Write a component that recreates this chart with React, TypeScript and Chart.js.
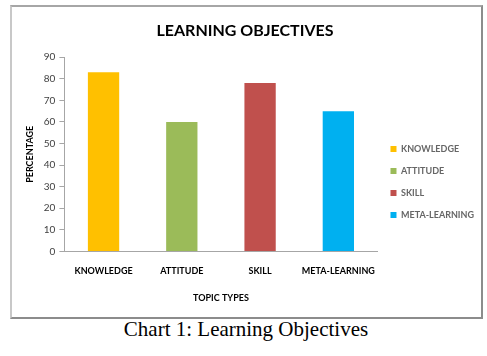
import React, { useEffect, useRef } from "react";
import { Chart, registerables } from "chart.js";

Chart.register(...registerables);

const categories = ["KNOWLEDGE", "ATTITUDE", "SKILL", "META-LEARNING"];
const values = [83, 60, 78, 65];
const colors = ["#FFC000", "#9BBB59", "#C0504D", "#00B0F0"];
const yTickMax = 90;
const yTickStep = 10;

const FONT = "Lato, 'Open Sans', sans-serif";

export default function App() {
  const ref = useRef<HTMLCanvasElement | null>(null);

  useEffect(() => {
    if (!ref.current) return;
    const chart = new Chart(ref.current, {
      type: "bar",
      data: {
        labels: categories,
        datasets: [
          {
            label: "Learning Objectives",
            data: values,
            backgroundColor: colors,
            borderWidth: 0,
            barPercentage: 0.4,
            categoryPercentage: 1,
          },
        ],
      },
      options: {
        responsive: false,
        animation: false,
        layout: { padding: { left: 0, right: 0, top: 6, bottom: 13 } },
        plugins: {
          title: {
            display: true,
            text: "LEARNING OBJECTIVES",
            color: "#000000",
            font: { family: FONT, size: 16, weight: "bold" },
            padding: { top: 8, bottom: 17 },
          },
          legend: {
            position: "right",
            title: {
              display: true,
              text: " ",
              font: { family: FONT, size: 10 },
              padding: 18,
            },
            labels: {
              boxWidth: 6,
              boxHeight: 6,
              padding: 13,
              color: "#000000",
              font: { family: FONT, size: 9, weight: "bold" },
              generateLabels: () =>
                categories.map((c, i) => ({
                  text: c,
                  fillStyle: colors[i],
                  strokeStyle: colors[i],
                  lineWidth: 0,
                  hidden: false,
                  index: i,
                  datasetIndex: 0,
                })),
            },
          },
          tooltip: { enabled: false },
        },
        scales: {
          x: {
            grid: { display: false },
            border: { display: true, color: "#A6A6A6", width: 1 },
            ticks: {
              color: "#000000",
              font: { family: FONT, size: 9, weight: "bold" },
              maxRotation: 0,
              padding: 6,
            },
            title: {
              display: true,
              text: "TOPIC TYPES",
              color: "#000000",
              font: { family: FONT, size: 9, weight: "bold" },
              padding: { top: 10, bottom: 0 },
            },
          },
          y: {
            min: 0,
            max: yTickMax,
            grid: {
              display: true,
              drawOnChartArea: false,
              drawTicks: true,
              tickLength: 5,
              color: "#A6A6A6",
            },
            border: { display: true, color: "#A6A6A6", width: 1 },
            ticks: {
              stepSize: yTickStep,
              color: "#404040",
              font: { family: FONT, size: 10 },
              padding: 4,
            },
            title: {
              display: true,
              text: "PERCENTAGE",
              color: "#000000",
              font: { family: FONT, size: 9, weight: "bold" },
              padding: { top: 19, bottom: 4 },
            },
          },
        },
      },
    });
    return () => chart.destroy();
  }, []);

  return (
    <div style={{ position: "absolute", left: 0, top: 0, width: 487, height: 356, background: "#fff" }}>
      <div
        style={{
          position: "absolute",
          left: 10,
          top: 5,
          width: 473,
          height: 314,
          boxSizing: "border-box",
          borderStyle: "solid",
          borderWidth: 2,
          borderTopColor: "#A6A6A6",
          borderLeftColor: "#C8C8C8",
          borderRightColor: "#8C8C8C",
          borderBottomColor: "#8C8C8C",
        }}
      />
      <canvas
        ref={ref}
        width={478}
        height={309}
        style={{ position: "absolute", left: 6, top: 7, width: 478, height: 309 }}
      />
      <div
        style={{
          position: "absolute",
          left: 10,
          top: 317,
          width: 472,
          textAlign: "center",
          fontFamily: "'Liberation Serif', 'Times New Roman', serif",
          fontSize: 21,
          lineHeight: "24px",
          color: "#000",
        }}
      >
        Chart 1: Learning Objectives
      </div>
    </div>
  );
}
